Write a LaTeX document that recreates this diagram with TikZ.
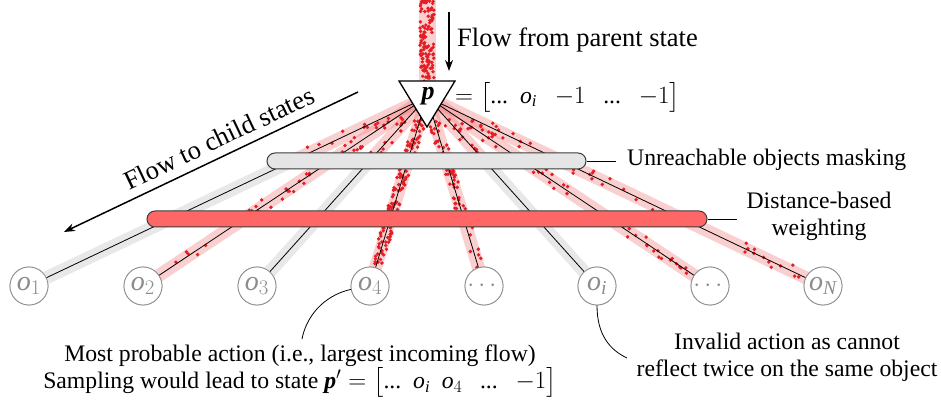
\documentclass[tikz,border=0pt]{standalone}
\usepackage{amsmath}
\usepackage{fontspec}
\setmainfont{Liberation Serif}
\DeclareSymbolFont{letters}{TU}{\rmdefault}{m}{it}
\SetSymbolFont{letters}{bold}{TU}{\rmdefault}{b}{it}
\usetikzlibrary{calc,arrows.meta}
\definecolor{bandpink}{RGB}{240,110,110}
\definecolor{dotred}{RGB}{228,30,36}
\definecolor{bargrey}{RGB}{229,229,229}
\definecolor{barred}{RGB}{255,102,102}
\definecolor{nodegrey}{RGB}{140,140,140}
\definecolor{greyband}{RGB}{232,232,232}
\definecolor{bardraw}{RGB}{60,60,60}
\newcommand\tdots{\textnormal{...}}
\tikzset{
  pinkband/.style={draw=bandpink, line width=13pt, draw opacity=0.33},
  greybandline/.style={draw=greyband, line width=13pt},
  onode/.style={circle, draw=nodegrey, fill=white, text=nodegrey, minimum size=38pt, inner sep=0pt, line width=0.8pt, font=\fontsize{28}{30}\selectfont},
  branch/.style={draw=black, line width=0.8pt},
  bigarrow/.style={draw=black, line width=1.5pt, -{Stealth[length=11pt,width=8pt]}},
  bar/.style={draw=bardraw, line width=1pt, rounded corners=8pt},
  biglbl/.style={font=\fontsize{26.5}{30}\selectfont},
  dotred/.style={fill=dotred}
}
\newcommand\dotseg[4]{%
  \ifnum#4>0
    \foreach \k in {1,...,#4}{%
      \pgfmathsetmacro\myt{#2+(#3-#2)*rnd}%
      \pgfmathsetmacro\myd{6*(2*rnd-1)}%
      \fill[dotred] ($(tc)!\myt!(#1)!\myd pt!90:(#1)$) circle (1.9pt);
    }%
  \fi}
\begin{document}
\begin{tikzpicture}[x=1pt,y=-1pt, font=\fontsize{23.7}{27}\selectfont]
\useasboundingbox (0,0) rectangle (941,403);
\pgfmathsetseed{4242}
\coordinate (tc) at (427,97);
% child nodes
\node[onode] (o1) at (29,286) {$o_1$};
\node[onode] (o2) at (143,286) {$o_2$};
\node[onode] (o3) at (257,286) {$o_3$};
\node[onode] (o4) at (370,286) {$o_4$};
\node[onode] (o5) at (484,286) {$\cdots$};
\node[onode] (o6) at (597,286) {$o_i$};
\node[onode] (o7) at (710,286) {$\cdots$};
\node[onode] (o8) at (823,286) {$o_N$};
% parent flow band
\coordinate (ptop) at (427,0);
\draw[pinkband, line width=17pt] (ptop) -- (tc);
\foreach \k in {1,...,120}{
  \pgfmathsetmacro\myx{427+7*(2*rnd-1)}
  \pgfmathsetmacro\myy{84*rnd}
  \fill[dotred] (\myx,\myy) circle (1.9pt);
}
% bands
\foreach \n/\m in {o1/1,o2/0,o3/1,o4/0,o5/0,o6/1,o7/0,o8/0}{
  \ifnum\m=1
    \draw[pinkband] (tc) -- ($(tc)!0.34!(\n)$);
    \draw[greybandline] ($(tc)!0.34!(\n)$) -- (\n.center);
  \else
    \draw[pinkband] (tc) -- (\n.center);
  \fi
}
% dots
\foreach \n/\a/\b/\c in {o1/10/0/0, o2/16/18/6, o3/12/0/0, o4/30/50/50, o5/22/34/9, o6/15/0/0, o7/14/11/22, o8/14/12/12}{
  \dotseg{\n}{0.12}{0.31}{\a}
  \dotseg{\n}{0.37}{0.62}{\b}
  \dotseg{\n}{0.68}{0.97}{\c}
}
% branch lines
\foreach \n in {o1,o2,o3,o4,o5,o6,o7,o8}{
  \draw[branch] (tc) -- (\n);
}
% redraw node circles on top of the dots
\foreach \n/\t in {o1/{$o_1$},o2/{$o_2$},o3/{$o_3$},o4/{$o_4$},o5/{$\cdots$},o6/{$o_i$},o7/{$\cdots$},o8/{$o_N$}}{
  \node[onode] at (\n) {\t};
}
% bars
\node[bar, fill=bargrey, minimum width=319pt, minimum height=16pt, inner sep=0pt] (mask) at (426.5,161) {};
\node[bar, fill=barred, minimum width=560pt, minimum height=16pt, inner sep=0pt] (weight) at (427,219) {};
\node[anchor=west, inner sep=0pt] (masklbl) at (627,160) {Unreachable objects masking};
\node[align=center, inner sep=0pt] (weightlbl) at (819,216) {Distance-based\\weighting};
\coordinate (mk) at (616,161);
\coordinate (wk) at (737,219);
\draw[line width=0.8pt] (mask.east) -- (mk);
\draw[line width=0.8pt] (weight.east) -- (wk);
% triangle (parent state)
\draw[line width=1.3pt, fill=white, line join=miter] (399,81) -- (455,81) -- (427,127) -- cycle;
\node[font=\fontsize{26}{28}\selectfont, inner sep=0pt] (p) at (428,96) {$\boldsymbol{p}$};
\node[anchor=west, inner sep=0pt] (eq) at (455,97) {$=\bigl[\tdots\ \ o_i\ \ \ {-1}\ \ \ \tdots\ \ \ {-1}\bigr]$};
% arrows
\coordinate (a1s) at (449,12);
\coordinate (a1e) at (449,71);
\draw[bigarrow] (a1s) -- (a1e);
\node[anchor=west, inner sep=0pt, biglbl] (flowp) at (457,40) {Flow from parent state};
\coordinate (a2s) at (358,92);
\coordinate (a2e) at (64,232);
\draw[bigarrow] (a2s) -- (a2e);
\node[rotate=25.4, biglbl, inner sep=0pt] (flowc) at (219,138) {Flow to child states};
% annotations
\node[align=center, inner sep=0pt] (best) at (300,371) {Most probable action (i.e., largest incoming flow)\\Sampling would lead to state $\boldsymbol{p}'=\bigl[\tdots\ \ o_i\ \ o_4\ \ \ \tdots\ \ \ {-1}\bigr]$};
\node[align=center, inner sep=0pt] (invalid) at (787,357) {Invalid action as cannot\\reflect twice on the same object};
\coordinate (c1) at (302,339);
\coordinate (c2) at (627,358);
\draw[line width=0.8pt] (o4.190) .. controls (322,296) and (306,318) .. (c1);
\draw[line width=0.8pt] (o6.south) .. controls (597,335) and (610,350) .. (c2);
\end{tikzpicture}
\end{document}
